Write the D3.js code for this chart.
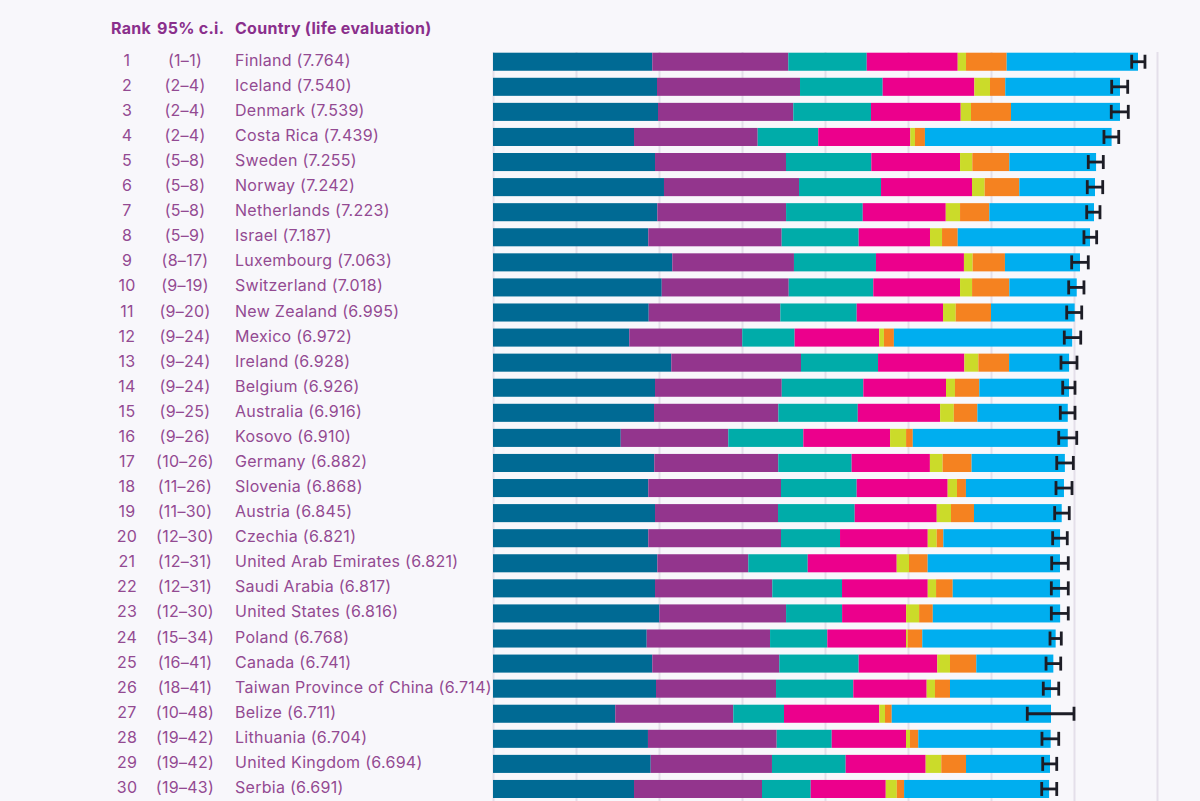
<!DOCTYPE html>
<html>
<head>
<meta charset="utf-8">
<script src="https://d3js.org/d3.v7.min.js"></script>
<style>
html, body { margin: 0; padding: 0; background: #f8f7fb; }
svg { display: block; }
text { font-family: "Inter", "Noto Sans", sans-serif; letter-spacing: 0.28px; }
</style>
</head>
<body>
<svg id="chart" width="1200" height="801"></svg>
<script>
var ranks = d3.range(1, 31);
var countries = ["Finland","Iceland","Denmark","Costa Rica","Sweden","Norway","Netherlands","Israel","Luxembourg","Switzerland","New Zealand","Mexico","Ireland","Belgium","Australia","Kosovo","Germany","Slovenia","Austria","Czechia","United Arab Emirates","Saudi Arabia","United States","Poland","Canada","Taiwan Province of China","Belize","Lithuania","United Kingdom","Serbia"];
var scores = ["7.764","7.540","7.539","7.439","7.255","7.242","7.223","7.187","7.063","7.018","6.995","6.972","6.928","6.926","6.916","6.910","6.882","6.868","6.845","6.821","6.821","6.817","6.816","6.768","6.741","6.714","6.711","6.704","6.694","6.691"];
var rankRanges = ["1–1","2–4","2–4","2–4","5–8","5–8","5–8","5–9","8–17","9–19","9–20","9–24","9–24","9–24","9–25","9–26","10–26","11–26","11–30","12–30","12–31","12–31","12–30","15–34","16–41","18–41","10–48","19–42","19–42","19–43"];

// explained-by segments
var gdp = [1.919,1.976,1.988,1.699,1.952,2.060,1.980,1.871,2.160,2.033,1.876,1.642,2.148,1.952,1.940,1.539,1.943,1.871,1.952,1.871,1.980,1.952,2.004,1.852,1.919,1.964,1.473,1.867,1.900,1.699];
var social = [1.639,1.723,1.630,1.490,1.578,1.627,1.551,1.607,1.466,1.530,1.586,1.361,1.563,1.527,1.498,1.296,1.494,1.599,1.482,1.599,1.096,1.413,1.527,1.486,1.530,1.446,1.422,1.551,1.461,1.542];
var health = [0.945,0.996,0.936,0.730,1.028,0.988,0.924,0.928,0.988,1.019,0.920,0.631,0.928,0.983,0.957,0.904,0.884,0.912,0.924,0.711,0.716,0.840,0.675,0.690,0.957,0.931,0.611,0.663,0.888,0.587];
var freedom = [1.096,1.104,1.081,1.108,1.069,1.096,1.000,0.859,1.060,1.045,1.040,1.019,1.040,0.996,0.992,1.045,0.943,1.096,0.988,1.057,1.072,1.033,0.771,0.948,0.947,0.884,1.148,0.895,0.964,0.904];
var generosity = [0.100,0.189,0.124,0.057,0.148,0.153,0.172,0.145,0.105,0.145,0.153,0.057,0.169,0.108,0.165,0.193,0.153,0.112,0.172,0.108,0.148,0.100,0.157,0.020,0.153,0.100,0.069,0.048,0.188,0.133];
var corruption = [0.490,0.184,0.482,0.120,0.446,0.417,0.353,0.189,0.389,0.449,0.425,0.120,0.370,0.293,0.284,0.081,0.349,0.108,0.277,0.080,0.225,0.201,0.165,0.176,0.317,0.181,0.081,0.100,0.298,0.088];
var dystopia = [1.582,1.382,1.313,2.249,1.045,0.912,1.261,1.594,0.904,0.812,1.008,2.148,0.723,1.081,1.089,1.867,1.124,1.181,1.057,1.406,1.594,1.293,1.534,1.607,0.928,1.217,1.919,1.595,1.012,1.747];

// whiskers
var ciLow = [7.695,7.454,7.449,7.361,7.172,7.160,7.153,7.120,6.972,6.936,6.912,6.883,6.843,6.864,6.835,6.816,6.792,6.783,6.767,6.743,6.731,6.727,6.727,6.711,6.663,6.630,6.437,6.614,6.623,6.611];
var ciHigh = [7.855,7.647,7.654,7.539,7.353,7.346,7.313,7.273,7.172,7.120,7.093,7.081,7.036,7.012,7.012,7.033,6.992,6.976,6.943,6.919,6.931,6.931,6.931,6.847,6.840,6.816,7.000,6.816,6.792,6.792];

var keys = ["gdp","social","health","freedom","generosity","corruption","dystopia"];
var colors = ["#006a94","#93358d","#00aca9","#ec008c","#cbdb2a","#f58220","#00aeef"];

var table = countries.map(function(c, i) {
   return {
      country: c, gdp: gdp[i], social: social[i], health: health[i], freedom: freedom[i],
      generosity: generosity[i], corruption: corruption[i], dystopia: dystopia[i]
   };
});

var svg = d3.select("#chart");
var x = d3.scaleLinear().domain([0, 8]).range([493, 1157]);
var y = d3.scaleBand().domain(countries).range([52.7, 798]).paddingInner(0.28);
var color = d3.scaleOrdinal().domain(keys).range(colors);

// gridlines come from the axis, labels off
var grid = svg.append("g")
   .attr("transform", "translate(0,52)")
   .call(d3.axisBottom(x).ticks(8).tickSize(749).tickFormat(""));
grid.select(".domain").remove();
grid.selectAll("line").attr("stroke", "#e4dfea").attr("stroke-width", 2);

var series = d3.stack().keys(keys)(table);
svg.append("g").selectAll("g")
   .data(series)
   .join("g")
   .attr("fill", d => color(d.key))
   .selectAll("rect")
   .data(d => d)
   .join("rect")
   .attr("x", d => x(d[0]))
   .attr("y", d => y(d.data.country))
   .attr("width", d => x(d[1]) - x(d[0]))
   .attr("height", y.bandwidth());

// error bars
var bars = svg.append("g").attr("stroke", "#1d1d26").attr("stroke-width", 2.8).attr("fill", "none");
countries.forEach(function(c, i) {
   var mid = y(c) + y.bandwidth() / 2;
   bars.append("line").attr("x1", x(ciLow[i])).attr("x2", x(ciHigh[i])).attr("y1", mid).attr("y2", mid);
   [ciLow[i], ciHigh[i]].forEach(function(v) {
      bars.append("line").attr("x1", x(v)).attr("x2", x(v)).attr("y1", mid - 7).attr("y2", mid + 7);
   });
});

// headers
var textColor = "#934a92";
var headColor = "#8a2f8c";
var heads = [["Rank", 111, "start"], ["95% c.i.", 157, "start"], ["Country (life evaluation)", 235, "start"]];
svg.append("g").selectAll("text")
   .data(heads)
   .join("text")
   .attr("x", d => d[1])
   .attr("y", 34)
   .attr("text-anchor", d => d[2])
   .attr("font-size", 16)
   .attr("font-weight", 700)
   .attr("fill", headColor)
   .text(d => d[0]);

// row labels
var labels = svg.append("g").attr("font-size", 16).attr("fill", textColor);
countries.forEach(function(c, i) {
   var base = y(c) + y.bandwidth() / 2 + 4;
   labels.append("text").attr("x", 127).attr("y", base).attr("text-anchor", "middle").text(ranks[i]);
   labels.append("text").attr("x", 185).attr("y", base).attr("text-anchor", "middle").text("(" + rankRanges[i] + ")");
   labels.append("text").attr("x", 235).attr("y", base).text(c + " (" + scores[i] + ")");
});
</script>
</body>
</html>
